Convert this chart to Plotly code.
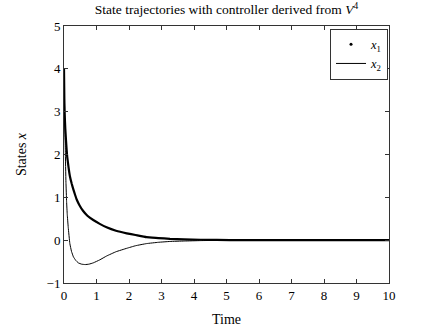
import plotly.graph_objects as go

# Time samples and state trajectories (closed-loop with V^4 controller)
t_x1 = [0, 0.01, 0.02, 0.04, 0.06, 0.08, 0.10, 0.14, 0.18, 0.24, 0.29, 0.34, 0.39,
        0.48, 0.59, 0.72, 0.90, 1.10, 1.31, 1.60, 1.93, 2.20, 2.54, 2.90, 3.26,
        3.70, 4.20, 4.70, 5.50, 6.50, 8.00, 10.0]
x1 = [4.0, 3.3, 2.95, 2.6, 2.35, 2.12, 1.94, 1.70, 1.50, 1.31, 1.18, 1.06, 0.95,
      0.81, 0.68, 0.57, 0.47, 0.38, 0.30, 0.22, 0.16, 0.12, 0.07, 0.05, 0.03,
      0.02, 0.01, 0.005, 0.0, 0.0, 0.0, 0.0]

t_x2 = [0, 0.02, 0.04, 0.06, 0.08, 0.10, 0.13, 0.18, 0.23, 0.29, 0.36, 0.44, 0.54,
        0.65, 0.77, 0.90, 1.10, 1.31, 1.60, 1.93, 2.20, 2.54, 2.90, 3.26, 3.70,
        4.20, 4.70, 5.50, 6.50, 8.00, 10.0]
x2 = [4.0, 3.0, 2.1, 1.35, 0.9, 0.6, 0.3, -0.08, -0.26, -0.39, -0.47, -0.53, -0.56,
      -0.57, -0.56, -0.53, -0.46, -0.37, -0.27, -0.19, -0.13, -0.08, -0.05, -0.03,
      -0.02, -0.01, -0.005, 0.0, 0.0, 0.0, 0.0]

x_ticks = list(range(0, 11))
y_ticks = [-1, 0, 1, 2, 3, 4, 5]

FONT = "Liberation Serif, Times New Roman, serif"

fig = go.Figure()

# x1: dense dotted trajectory (drawn heavy), legend entry shows a single dot
fig.add_trace(go.Scatter(
    x=t_x1, y=x1, mode="lines", line=dict(color="black", width=2.2, shape="spline", smoothing=0.3),
    showlegend=False, hoverinfo="skip"))
fig.add_trace(go.Scatter(
    x=[None], y=[None], mode="markers", marker=dict(color="black", size=3),
    name="<i>x</i><sub>1</sub>"))

# x2: thin solid line
fig.add_trace(go.Scatter(
    x=t_x2, y=x2, mode="lines", line=dict(color="black", width=1, shape="spline", smoothing=0.3),
    name="<i>x</i><sub>2</sub>"))

axis_common = dict(
    showgrid=False, zeroline=False, showline=True, linecolor="#333", linewidth=1,
    mirror="ticks", ticks="inside", ticklen=4, tickcolor="#333", automargin=False,
    tickfont=dict(family=FONT, size=13, color="black"),
)

fig.update_layout(
    width=425, height=332,
    margin=dict(l=64, r=36, t=26, b=49),
    paper_bgcolor="white", plot_bgcolor="white",
    font=dict(family=FONT, color="black"),
    title=dict(
        text="State trajectories with controller derived from <i>V</i><sup>4</sup>",
        x=0.533, xanchor="center", y=0.985, yanchor="top",
        font=dict(family=FONT, size=13.5, color="black")),
    xaxis=dict(range=[0, 10], tickvals=x_ticks, **axis_common,
               title=dict(text="Time", font=dict(family=FONT, size=14), standoff=12)),
    yaxis=dict(range=[-1, 5], tickvals=y_ticks, **axis_common,
               title=dict(text="States <i>x</i>", font=dict(family=FONT, size=14), standoff=16)),
    legend=dict(
        x=0.997, y=0.99, xanchor="right", yanchor="top",
        bgcolor="white", bordercolor="#333", borderwidth=1,
        font=dict(family=FONT, size=12.5), itemwidth=30,
        tracegroupgap=0,
    ),
)

fig.write_html("out.html")
